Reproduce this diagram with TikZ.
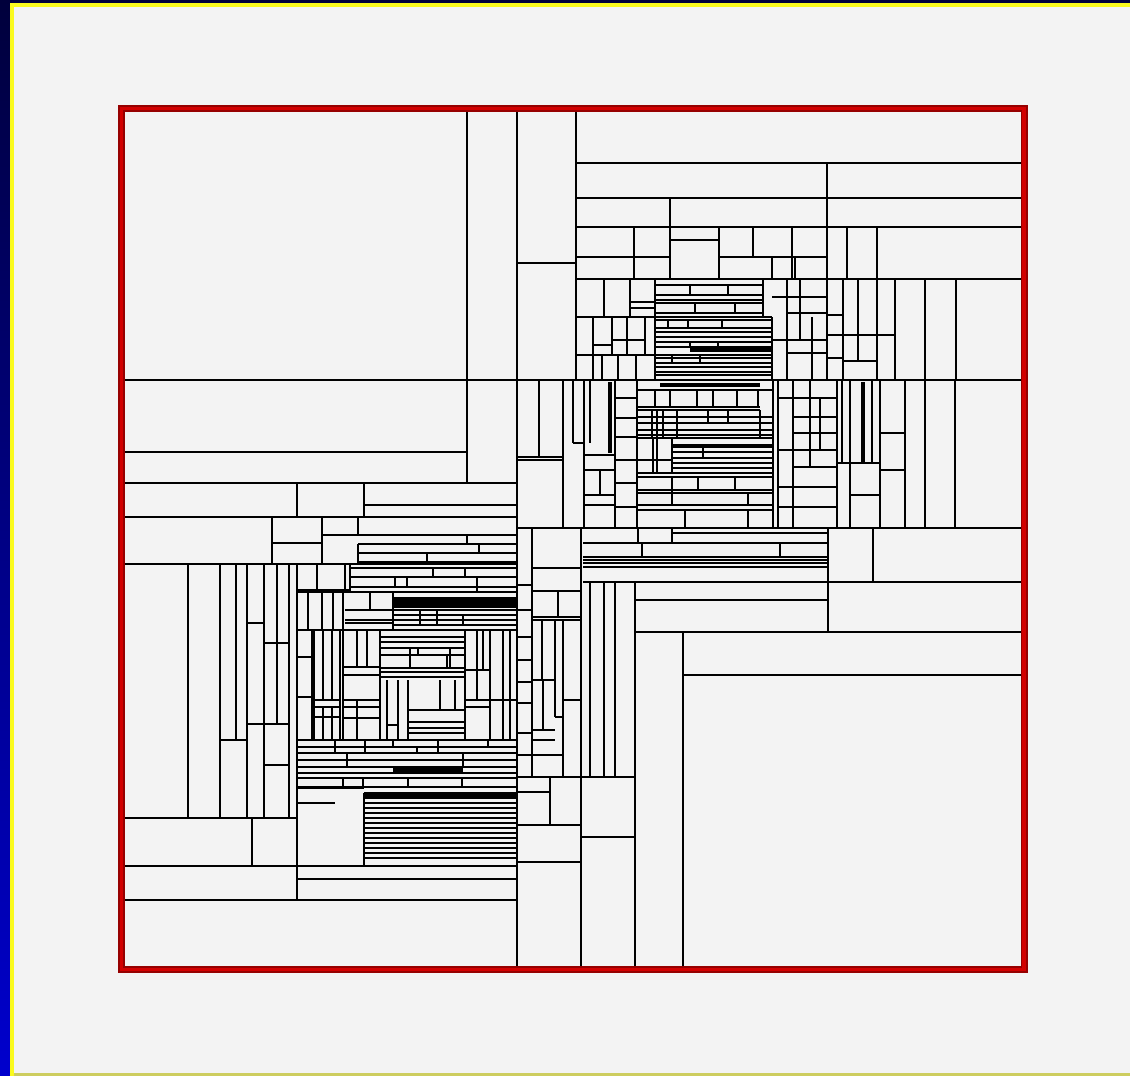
\documentclass[tikz,border=0pt]{standalone}
\definecolor{navytop}{RGB}{0,0,60}
\definecolor{navybot}{RGB}{0,0,205}
\definecolor{rimyellow}{RGB}{250,250,30}
\definecolor{rimolive}{RGB}{205,205,95}
\definecolor{paper}{RGB}{243,243,243}
\definecolor{framedark}{RGB}{150,0,0}
\definecolor{framered}{RGB}{210,0,0}
\tikzset{
  cut/.style={line width=1.7pt, black},
  heavy/.style={line width=3.2pt, black},
}
\begin{document}
\begin{tikzpicture}[x=1pt,y=-1pt]
 \useasboundingbox (0,0) rectangle (1130,1076);
 \shade[top color=navytop, bottom color=navybot] (0,0) rectangle (10,1076);
 \fill[navytop] (10,0) rectangle (1130,3);
 \fill[rimyellow] (10,3) rectangle (1130,7);
 \fill[rimyellow] (10,3) rectangle (14,1076);
 \fill[rimolive] (14,1073) rectangle (1130,1076);
 \fill[paper] (14,7) rectangle (1130,1073);
 % main cuts
 \foreach \xa/\xb/\yy in {124/1023/380, 517/1023/528, 124/467/452, 124/517/483, 517/576/263,
   576/1023/163, 576/1023/198, 576/1023/227, 576/1023/279, 576/670/257, 670/719/240, 719/827/257,
   364/517/505, 124/517/517, 272/322/543, 322/517/535, 358/517/544, 358/517/553, 358/517/562, 124/517/564,
   247/264/623, 264/289/643, 247/289/724, 220/247/740, 264/289/765, 124/297/818,
   124/517/866, 297/517/879, 124/517/900, 297/364/788, 297/335/803,
   583/1023/582, 635/1023/632, 683/1023/675, 583/828/543, 673/828/533, 583/828/557, 583/828/560,
   583/828/563, 583/828/567, 635/828/600,
   532/581/568, 532/581/591, 532/581/617, 532/581/620, 532/555/680, 563/581/700, 555/563/717,
   532/555/730, 532/555/740, 532/563/755, 517/635/777, 517/550/792, 517/581/825, 581/635/837, 517/581/862,
   517/532/585, 517/532/610, 517/532/637, 517/532/660, 517/532/682, 517/532/703, 517/532/733, 517/532/755,
   827/843/315, 827/843/335, 827/843/358, 843/895/335, 843/877/361, 880/905/433, 880/905/470,
   837/880/463, 850/880/495}
   \draw[cut] (\xa,\yy) -- (\xb,\yy);
 \foreach \xx/\ya/\yb in {517/109/968, 467/109/483, 576/109/380,
   827/163/380, 670/198/279, 634/227/279, 719/227/279, 753/227/257, 792/227/279, 847/227/279, 877/227/279,
   772/257/279, 795/257/279,
   297/483/517, 364/483/517, 272/517/564, 322/517/564, 358/517/535, 358/544/564, 467/535/544, 479/544/553, 427/553/562,
   188/564/818, 220/564/818, 236/564/740, 247/564/818, 264/564/818, 277/564/724, 289/564/818, 297/564/900,
   252/818/866, 364/793/866,
   532/528/776, 581/528/968, 828/528/632, 873/528/582, 635/582/968, 683/632/968, 590/582/776, 604/582/776, 615/582/776,
   638/528/543, 672/528/543, 642/543/557, 780/543/557,
   558/591/617, 542/620/680, 555/620/717, 563/620/776, 543/680/730, 550/777/825,
   843/279/380, 858/279/361, 877/279/380, 895/279/380, 925/279/380, 956/279/380,
   842/380/463, 850/380/463, 872/380/463, 880/380/528, 905/380/528, 925/380/528, 955/380/528, 850/463/528}
   \draw[cut] (\xx,\ya) -- (\xx,\yb);
 \draw[heavy] (863,382) -- (863,462);
 % lower left cluster
 \foreach \xa/\xb/\yy in {297/350/590, 350/517/568, 350/517/577, 350/517/587, 297/517/592,
   345/393/610, 345/393/620, 345/393/623,
   393/517/598, 393/517/603, 393/517/610, 393/517/615, 393/517/620, 393/517/625, 297/517/630,
   297/312/657, 297/312/697, 313/340/700, 313/340/707, 313/340/717,
   343/380/667, 343/380/675, 343/380/700, 343/380/707, 343/380/718,
   380/465/637, 380/465/642, 380/465/648, 380/465/655, 380/465/668, 380/465/672, 380/465/677,
   465/490/670, 465/517/700, 465/490/707, 387/398/725,
   408/465/710, 408/465/722, 408/465/728, 408/465/733, 297/517/740,
   297/517/747, 297/517/753, 297/517/760, 297/517/767, 297/517/773, 297/517/778, 297/517/787}
   \draw[cut] (\xa,\yy) -- (\xb,\yy);
 \foreach \yy in {793,798,...,858}
   \draw[cut] (364,\yy) -- (517,\yy);
 \foreach \xx/\ya/\yb in {317/564/590, 345/564/592, 350/564/592, 433/568/577, 465/568/577, 395/577/587,
   407/577/587, 477/577/592,
   308/592/630, 322/592/630, 333/592/630, 343/592/630, 370/592/610, 393/592/630,
   420/610/625, 437/610/625, 463/615/625, 480/598/603,
   312/630/740, 323/630/700, 332/630/700, 340/630/740, 343/630/740, 323/707/740, 332/707/740,
   357/630/667, 367/630/667, 380/630/740, 357/700/740,
   410/648/668, 418/648/655, 447/655/668, 450/648/668,
   465/630/740, 477/630/700, 483/630/670, 490/630/740, 503/630/740, 510/630/740,
   387/680/740, 398/680/740, 408/680/740, 440/680/710, 455/680/710,
   335/740/753, 365/740/753, 393/740/747, 438/740/753, 488/740/747, 347/753/767, 417/747/753,
   463/753/767, 343/778/787, 363/778/787, 408/778/787, 462/778/787}
   \draw[cut] (\xx,\ya) -- (\xx,\yb);
 \draw[heavy] (393,600) -- (517,600);
 \draw[heavy] (393,606) -- (517,606);
 \draw[heavy] (393,770) -- (463,770);
 \draw[heavy] (364,795) -- (517,795);
 \draw[heavy] (313,630) -- (313,740);
 % upper right cluster
 \foreach \xa/\xb/\yy in {576/655/317, 630/655/302, 630/655/308, 612/645/340, 593/612/345, 576/655/355,
   655/763/285, 655/763/295, 655/763/300, 655/763/303, 655/763/313,
   655/772/317, 655/772/320, 655/772/328, 655/772/332, 655/772/337, 655/772/342, 655/772/347,
   655/772/355, 655/772/358, 655/772/363, 655/772/367, 655/772/372, 655/772/375,
   772/827/297, 787/827/313, 772/827/340, 787/827/353,
   517/563/457, 517/563/460, 573/584/443, 584/615/455, 584/615/470, 584/615/495, 584/615/505,
   615/637/398, 615/637/418, 615/637/437, 615/637/460, 615/637/483, 615/637/507,
   637/773/390, 637/760/407, 637/760/410, 637/773/417, 637/773/423, 637/773/430, 637/773/435,
   637/773/438, 673/773/445, 673/773/452, 673/773/458, 673/773/463, 673/773/468, 637/773/473,
   637/773/477, 637/773/490, 637/773/493, 637/773/505, 637/773/510, 637/672/460,
   778/837/398, 793/837/417, 793/837/433, 778/837/450, 793/837/467, 778/837/487, 778/837/507}
   \draw[cut] (\xa,\yy) -- (\xb,\yy);
 \foreach \xx/\ya/\yb in {604/279/317, 630/279/317, 655/279/380, 593/317/380, 612/317/355, 627/317/355,
   645/317/355, 602/355/380, 618/355/380, 636/355/380,
   763/279/317, 690/285/295, 728/285/295, 695/303/313, 735/303/313, 668/320/328, 688/320/328,
   722/320/328, 690/342/347, 718/342/347, 672/355/363, 700/355/363,
   772/317/380, 787/279/380, 800/279/340, 812/317/380,
   539/380/457, 563/380/528, 573/380/443, 584/380/528, 590/380/443, 615/380/528, 637/380/528, 600/470/495,
   655/390/407, 670/390/407, 697/390/407, 713/390/407, 737/390/407, 758/390/407,
   652/410/438, 657/410/438, 663/410/438, 677/410/438, 708/410/423, 728/410/423, 760/410/438,
   653/438/473, 657/438/473, 672/438/473, 703/445/458, 672/477/505, 698/477/490, 735/477/490,
   748/493/505, 685/510/528, 748/510/528,
   773/380/528, 778/380/528, 793/380/528, 810/380/467, 820/398/450, 837/380/528}
   \draw[cut] (\xx,\ya) -- (\xx,\yb);
 \draw[heavy] (690,350) -- (772,350);
 \draw[heavy] (660,385) -- (760,385);
 \draw[heavy] (673,446) -- (773,446);
 \draw[heavy] (610,382) -- (610,453);
 % frame
 \draw[framedark, line width=7pt] (121.5,108.5) rectangle (1024,969.5);
 \draw[framered, line width=3.5pt] (121.5,108.5) rectangle (1024,969.5);
\end{tikzpicture}
\end{document}
